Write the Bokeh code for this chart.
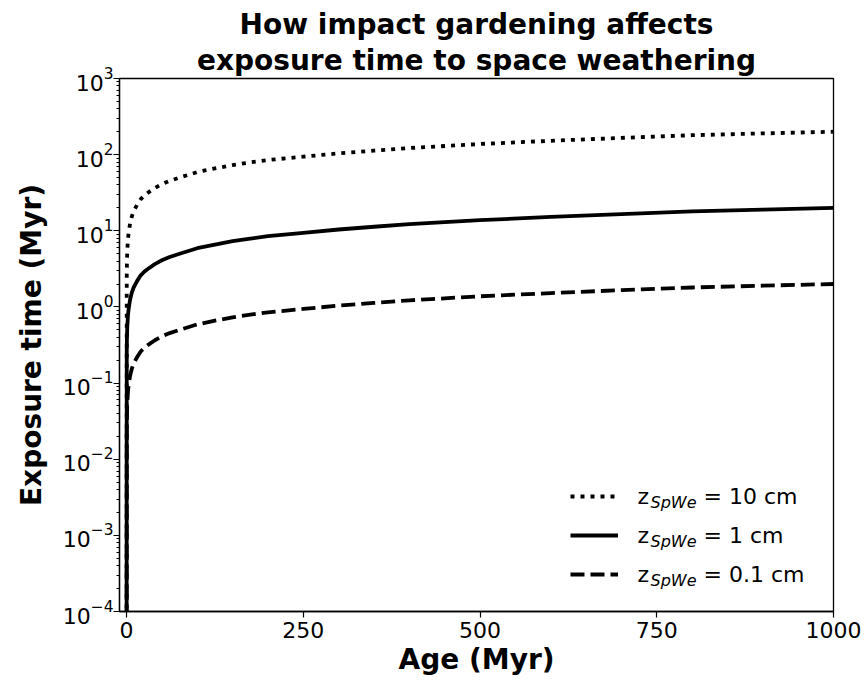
import numpy as np
from bokeh.plotting import figure
from bokeh.models import Range1d, FixedTicker, Legend, LegendItem, Label, Title
from bokeh.embed import file_html
from bokeh.resources import INLINE

# ---- data ----
age = [0, 0.25, 0.5, 1, 2, 3, 5, 7.5, 10, 15, 20, 25, 30, 40, 50, 60, 75, 100, 125, 150,
       175, 200, 250, 300, 350, 400, 500, 600, 700, 800, 900, 1000]
exp_10cm = [1e-5, 2.5, 3.8, 5.5, 7.8, 9.5, 12.5, 15.5, 18, 22, 26, 29, 31.5, 36.5, 41, 45, 50, 59, 66, 73,
            79, 85, 94, 104, 113, 122, 138, 152, 166, 180, 190, 200]
exp_1cm = [1e-6, 0.25, 0.38, 0.55, 0.78, 0.95, 1.25, 1.55, 1.8, 2.2, 2.6, 2.9, 3.15, 3.65, 4.1, 4.5, 5.0, 5.9, 6.6, 7.3,
           7.9, 8.5, 9.4, 10.4, 11.3, 12.2, 13.8, 15.2, 16.6, 18.0, 19.0, 20.0]
exp_01cm = [1e-7, 0.025, 0.038, 0.055, 0.078, 0.095, 0.125, 0.155, 0.18, 0.22, 0.26, 0.29, 0.315, 0.365, 0.41, 0.45,
            0.50, 0.59, 0.66, 0.73, 0.79, 0.85, 0.94, 1.04, 1.13, 1.22, 1.38, 1.52, 1.66, 1.80, 1.90, 2.00]
legend_depths = ["10", "1", "0.1"]
x_ticks = [0, 250, 500, 750, 1000]
y_exponents = [-4, -3, -2, -1, 0, 1, 2, 3]
title_lines = ["How impact gardening affects", "exposure time to space weathering"]

FONT = "DejaVu Sans"

p = figure(width=865, height=682,
           x_range=Range1d(-10, 1000), y_range=Range1d(1e-4, 1e3),
           y_axis_type="log", output_backend="svg", toolbar_location=None,
           min_border_left=119, min_border_right=32, min_border_top=78, min_border_bottom=71)

# the figure's own title sits outermost; the added Title sits next to the frame
p.title.text = title_lines[0]
p.title.align = "center"
p.title.text_font = FONT
p.title.text_font_size = "28px"
p.title.text_font_style = "bold"
p.title.text_color = "black"
p.title.standoff = 0
p.add_layout(Title(text=title_lines[1], align="center", text_font=FONT, text_font_size="28px",
                   text_font_style="bold", text_color="black", standoff=3), "above")

p.xgrid.visible = False
p.ygrid.visible = False
p.outline_line_color = "black"
p.outline_line_width = 1.3
p.outline_line_alpha = 1.0

major_y = [10.0 ** e for e in y_exponents]
minor_y = [m * 10.0 ** e for e in y_exponents[:-1] for m in range(2, 10)]
p.yaxis.ticker = FixedTicker(ticks=major_y, minor_ticks=minor_y)
p.xaxis.ticker = FixedTicker(ticks=x_ticks, minor_ticks=[])

for ax in (p.xaxis[0], p.yaxis[0]):
    ax.axis_line_color = "black"
    ax.axis_line_width = 1.3
    ax.major_tick_line_color = "black"
    ax.minor_tick_line_color = "black"
    ax.major_tick_line_width = 1.2
    ax.minor_tick_line_width = 1.0
    ax.major_tick_in = 0
    ax.major_tick_out = 6
    ax.minor_tick_in = 0
    ax.minor_tick_out = 3
    ax.major_label_text_font = FONT
    ax.major_label_text_font_size = "22px"
    ax.major_label_text_color = "black"
    ax.axis_label_text_font = FONT
    ax.axis_label_text_font_size = "28px"
    ax.axis_label_text_font_style = "bold"
    ax.axis_label_text_color = "black"

p.xaxis.axis_label = "Age (Myr)"
p.yaxis.axis_label = "Exposure time (Myr)"
p.xaxis.major_label_standoff = 4
p.xaxis.axis_label_standoff = 2
p.yaxis.major_label_standoff = 0
p.yaxis.axis_label_standoff = 12

LW = 3.8
r10 = p.line(age, exp_10cm, line_color="black", line_width=LW, line_dash="4 6", line_join="round")
r1 = p.line(age, exp_1cm, line_color="black", line_width=LW, line_join="round")
r01 = p.line(age, exp_01cm, line_color="black", line_width=LW, line_dash="14 6", line_join="round")

legend = Legend(items=[LegendItem(label=" ", renderers=[r]) for r in (r10, r1, r01)],
                location=(451, 27), glyph_width=48, glyph_height=20, spacing=19,
                label_width=0, label_standoff=0, label_height=20, label_text_font_size="1px",
                padding=0, margin=0, border_line_alpha=0, background_fill_alpha=0)
p.add_layout(legend)

row_y = [115, 76, 37]
for d, yy in zip(legend_depths, row_y):
    p.add_layout(Label(x=518, y=yy, x_units="screen", y_units="screen", text="z",
                       text_font=FONT, text_font_size="22px", text_baseline="middle", text_color="black"))
    p.add_layout(Label(x=531, y=yy - 6, x_units="screen", y_units="screen", text="SpWe",
                       text_font=FONT, text_font_size="16px", text_font_style="italic",
                       text_baseline="middle", text_color="black"))
    p.add_layout(Label(x=584, y=yy, x_units="screen", y_units="screen", text="= " + d + " cm",
                       text_font=FONT, text_font_size="22px", text_baseline="middle", text_color="black"))

open("out.html", "w").write(file_html(p, INLINE))
